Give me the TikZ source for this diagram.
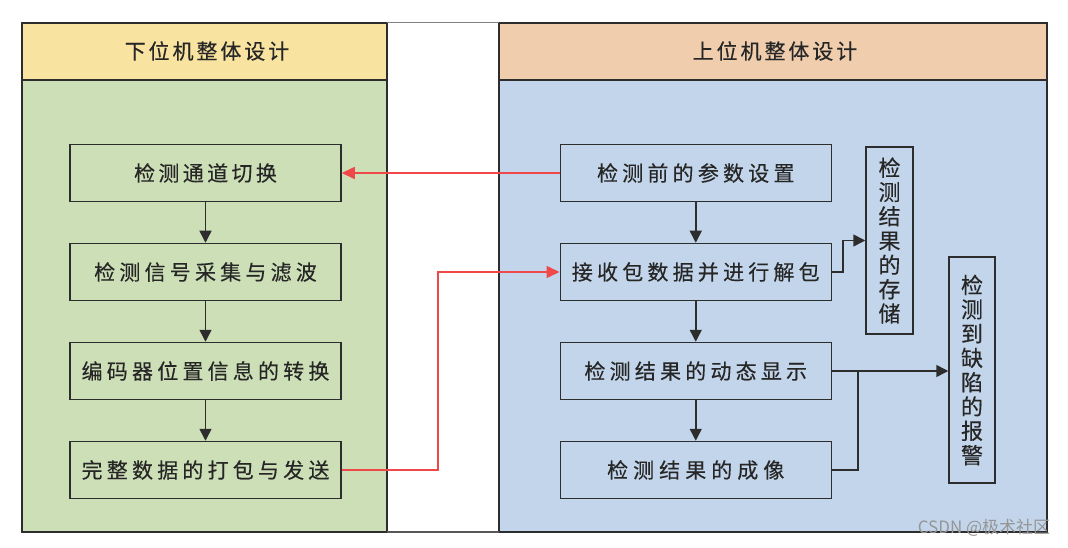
\documentclass[tikz,border=0pt]{standalone}
\usepackage{fontspec}
\newfontfamily\cjk[FakeBold=0.3]{Noto Sans CJK SC}
\newfontfamily\cjkw{Noto Sans CJK SC}
\usetikzlibrary{arrows.meta,calc}
\definecolor{hdrY}{RGB}{249,227,160}
\definecolor{hdrP}{RGB}{239,205,173}
\definecolor{bodyG}{RGB}{205,223,183}
\definecolor{bodyB}{RGB}{195,213,234}
\definecolor{lineK}{RGB}{45,45,45}
\definecolor{redL}{RGB}{240,72,72}
\definecolor{wm}{RGB}{150,150,150}
\tikzset{
  panel/.style={draw=lineK, line width=1.5pt},
  boxL/.style={draw=lineK, line width=1.5pt, rectangle, minimum width=271pt, minimum height=57pt, inner sep=0pt,
    font={\cjk\fontsize{21}{21}\selectfont\addfontfeature{LetterSpace=20}}, text=black!85},
  boxV/.style={draw=lineK, line width=1.5pt, rectangle, inner sep=0pt, align=center,
    font={\cjk\fontsize{22}{24.3}\selectfont}, text=black!85},
  hdr/.style={font={\cjk\fontsize{21}{21}\selectfont\addfontfeature{LetterSpace=14}}, text=black!85},
  flow/.style={draw=lineK, line width=1.5pt, -{Triangle[length=12pt,width=12pt]}},
  plain/.style={draw=lineK, line width=1.5pt},
  redflow/.style={draw=redL, line width=1.6pt, -{Triangle[length=13pt,width=12pt]}},
}
\begin{document}
\begin{tikzpicture}[x=1pt,y=-1pt]
\useasboundingbox (0,0) rectangle (1068,548);
\fill[white] (0,0) rectangle (1068,548);
% panels
\fill[bodyG] (22,80) rectangle (387,532);
\fill[hdrY] (22,23) rectangle (387,80);
\fill[bodyB] (499,80) rectangle (1047,532);
\fill[hdrP] (499,23) rectangle (1047,80);
\draw[panel] (22,23) rectangle (387,532);
\draw[panel] (22,80) -- (387,80);
\draw[panel] (499,23) rectangle (1047,532);
\draw[panel] (499,80) -- (1047,80);
\draw[draw=gray, line width=1pt] (387,23) -- (499,23);
\draw[draw=lineK!80, line width=1.6pt] (387,532) -- (499,532);
\node[hdr] (hl) at (207,51) {下位机整体设计};
\node[hdr] (hr) at (775,51) {上位机整体设计};
% left boxes
\node[boxL, font={\cjk\fontsize{21}{21}\selectfont\addfontfeature{LetterSpace=16}}] (l1) at (205.5,173) {检测通道切换};
\node[boxL] (l2) at (205.5,272) {检测信号采集与滤波};
\node[boxL] (l3) at (205.5,371) {编码器位置信息的转换};
\node[boxL] (l4) at (205.5,470) {完整数据的打包与发送};
% right boxes
\node[boxL] (r1) at (695.75,173) {检测前的参数设置};
\node[boxL] (r2) at (695.75,272) {接收包数据并进行解包};
\node[boxL] (r3) at (695.75,371) {检测结果的动态显示};
\node[boxL, font={\cjk\fontsize{21}{21}\selectfont\addfontfeature{LetterSpace=24}}] (r4) at (695.75,470) {检测结果的成像};
\node[boxV, minimum width=47pt, minimum height=187pt] (st) at (889.5,240.5) {检\\测\\结\\果\\的\\存\\储};
\node[boxV, minimum width=46pt, minimum height=226pt] (al) at (972,370) {检\\测\\到\\缺\\陷\\的\\报\\警};
% connectors
\draw[flow] (l1) -- (l2);
\draw[flow] (l2) -- (l3);
\draw[flow] (l3) -- (l4);
\draw[flow] (r1) -- (r2);
\draw[flow] (r2) -- (r3);
\draw[flow] (r3) -- (r4);
\draw[redflow] (r1.west) -- (l1.east);
\draw[redflow] (l4.east) -- ++(96,0) |- (r2.west);
\draw[flow] (r2.east) -- ++(11,0) |- (st.west);
\draw[flow] (r3.east) -- (r3.east -| al.west);
\coordinate (j) at ($(r3.east)+(26,0)$);
\draw[plain] (r4.east) -| (j);
% watermark
\node[font={\cjkw\fontsize{17}{17}\selectfont}, text=wm] (wmk) at (984,528) {CSDN @极术社区};
\end{tikzpicture}
\end{document}
